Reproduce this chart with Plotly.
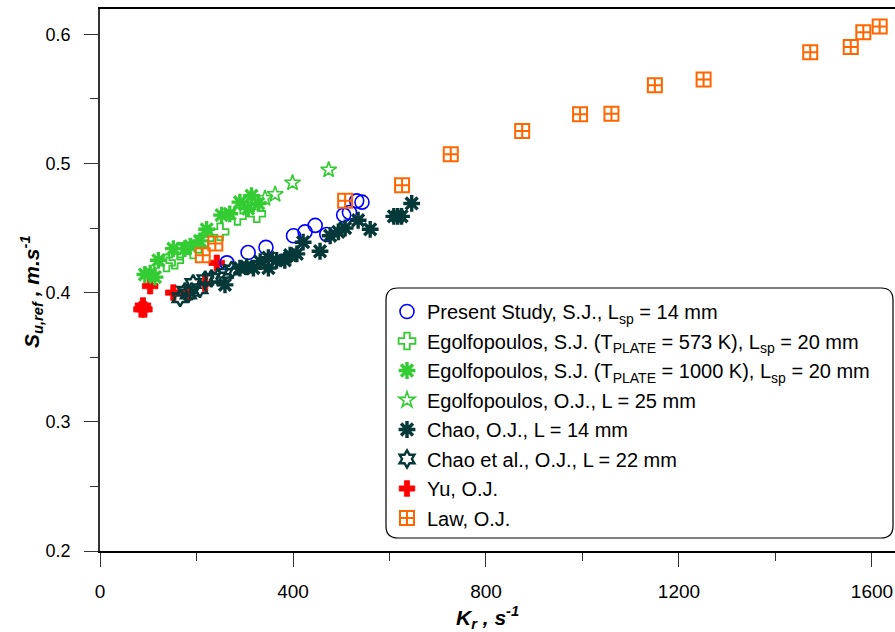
import plotly.graph_objects as go

# ---------------- data ----------------
present_k = [263, 307, 344, 401, 425, 446, 470, 505, 517, 532, 543]
present_s = [0.423, 0.431, 0.435, 0.444, 0.447, 0.452, 0.445, 0.460, 0.462, 0.471, 0.470]

ego573_k = [138, 155, 166, 193, 218, 249, 285, 325]
ego573_s = [0.423, 0.425, 0.432, 0.433, 0.442, 0.447, 0.459, 0.461]

ego1000_k = [93, 104, 114, 121, 152, 176, 187, 207, 221, 252, 269, 290, 307, 314, 328]
ego1000_s = [0.414, 0.415, 0.412, 0.425, 0.434, 0.434, 0.436, 0.440, 0.449, 0.460,
             0.461, 0.470, 0.465, 0.475, 0.469]

egooj_k = [342, 363, 399, 474]
egooj_s = [0.473, 0.476, 0.485, 0.495]

chao14_k = [259, 290, 304, 318, 332, 349, 349, 366, 383, 394, 408, 421, 456, 477,
            494, 508, 535, 560, 609, 617, 625, 646]
chao14_s = [0.406, 0.419, 0.420, 0.419, 0.424, 0.427, 0.419, 0.425, 0.425, 0.429,
            0.430, 0.439, 0.432, 0.444, 0.447, 0.450, 0.456, 0.449, 0.459, 0.459,
            0.459, 0.469]

chao22_k = [166, 176, 183, 190, 193, 207, 218, 231, 245, 259, 273]
chao22_s = [0.396, 0.401, 0.399, 0.401, 0.407, 0.403, 0.410, 0.411, 0.412, 0.415, 0.4175]

yu_k = [86, 92, 89, 104, 152, 180, 218, 242]
yu_s = [0.387, 0.387, 0.390, 0.405, 0.400, 0.400, 0.407, 0.423]

law_k = [213, 239, 508, 626, 727, 875, 995, 1060, 1150, 1251, 1472, 1556, 1582, 1616]
law_s = [0.429, 0.438, 0.471, 0.483, 0.507, 0.525, 0.538, 0.5385, 0.5605, 0.565,
         0.586, 0.590, 0.6015, 0.606]

x_range = [0, 1647.7]
y_range = [0.2, 0.6195]
x_ticks = [0, 400, 800, 1200, 1600]
y_ticks = [0.2, 0.3, 0.4, 0.5, 0.6]

# ---------------- styling ----------------
BLUE = "#0000ff"
GREEN = "#33cc33"
DARK = "#053838"
RED = "#ff0000"
ORANGE = "#ff6600"
FONT = "Liberation Sans, Arial, sans-serif"

fig = go.Figure()

def add(k, s, name, symbol, color, size, lw, rank):
    fig.add_trace(go.Scatter(
        x=k, y=s, mode="markers", name=name, legendrank=rank,
        legendgroup=name,
        marker=dict(symbol=symbol, size=size,
                    color=color,
                    line=dict(color=color, width=lw)),
    ))

# draw order: Yu underneath the Chao cluster, Law on top
add(yu_k, yu_s, "Yu, O.J.", "cross", RED, 13, 0.8, 7)
add(present_k, present_s, "Present Study, S.J., L<sub>sp</sub> = 14 mm",
    "circle-open", BLUE, 14, 1.6, 1)
add(ego573_k, ego573_s,
    "Egolfopoulos, S.J. (T<sub>PLATE</sub> = 573 K), L<sub>sp</sub> = 20 mm",
    "cross-open", GREEN, 14, 1.8, 2)
add(ego1000_k, ego1000_s,
    "Egolfopoulos, S.J. (T<sub>PLATE</sub> = 1000 K), L<sub>sp</sub> = 20 mm",
    "asterisk-open", GREEN, 14, 3.4, 3)
add(egooj_k, egooj_s, "Egolfopoulos, O.J., L = 25 mm", "star-open", GREEN, 12, 1.6, 4)
add(chao14_k, chao14_s, "Chao, O.J., L = 14 mm", "asterisk-open", DARK, 14, 3.4, 5)
add(chao22_k, chao22_s, "Chao et al., O.J., L = 22 mm", "hexagram-open", DARK, 13, 2.4, 6)
add(law_k, law_s, "Law, O.J.", "square-cross-open", ORANGE, 14, 2.0, 8)

# plot area geometry in pixels (for the legend frame)
W, H = 895, 632
ml, mr, mt, mb = 100, 0, 9, 81
pw, ph = W - ml - mr, H - mt - mb

def px2paper(px, py):
    return (px - ml) / pw, (H - mb - py) / ph

x0, y0 = px2paper(386, 288)
x1, y1 = px2paper(893, 538)
rx, ry = 12 / pw, 12 / ph
path = (f"M {x0+rx},{y0} L {x1-rx},{y0} Q {x1},{y0} {x1},{y0-ry} "
        f"L {x1},{y1+ry} Q {x1},{y1} {x1-rx},{y1} "
        f"L {x0+rx},{y1} Q {x0},{y1} {x0},{y1+ry} "
        f"L {x0},{y0-ry} Q {x0},{y0} {x0+rx},{y0} Z")

lx, ly = px2paper(387, 292)

fig.update_layout(
    width=W, height=H,
    margin=dict(l=ml, r=mr, t=mt, b=mb),
    paper_bgcolor="white", plot_bgcolor="white",
    font=dict(family=FONT, size=17, color="black"),
    showlegend=True,
    legend=dict(
        x=lx, y=ly, xanchor="left", yanchor="top",
        bgcolor="rgba(0,0,0,0)", borderwidth=0,
        font=dict(family=FONT, size=20, color="black"),
        tracegroupgap=0.5, traceorder="grouped",
        itemsizing="trace",
    ),
    shapes=[dict(type="path", path=path, xref="paper", yref="paper",
                 line=dict(color="black", width=1.2), fillcolor="white",
                 layer="above")],
    xaxis=dict(
        range=x_range, tickvals=x_ticks, ticktext=[str(v) for v in x_ticks],
        showgrid=False, zeroline=False, showline=True, linecolor="black",
        linewidth=1.5, mirror=True, ticks="outside", ticklen=14, tickwidth=1,
        tickcolor="#333", ticklabelstandoff=8,
        tickfont=dict(family="Liberation Sans Narrow, Arial Narrow, " + FONT, size=19),
        minor=dict(dtick=200, tick0=0, ticks="outside", ticklen=8,
                   tickcolor="#333", tickwidth=1),
    ),
    yaxis=dict(
        range=y_range, tickvals=y_ticks, ticktext=[f"{v:.1f}" for v in y_ticks],
        showgrid=False, zeroline=False, showline=True, linecolor="#333",
        linewidth=1.5, mirror=False, ticks="outside", ticklen=14, tickwidth=1,
        tickcolor="#333", ticklabelstandoff=10,
        tickfont=dict(family=FONT, size=18),
        minor=dict(dtick=0.05, tick0=0.2, ticks="outside", ticklen=8,
                   tickcolor="#333", tickwidth=1),
    ),
    annotations=[
        dict(text="<b><i>K<sub>r</sub> , s<sup>-1</sup></i></b>",
             xref="paper", yref="paper", x=px2paper(487, 0)[0], y=px2paper(0, 617)[1],
             xanchor="center", yanchor="middle", showarrow=False,
             font=dict(family=FONT, size=21, color="black")),
        dict(text="<b><i>S<sub>u,ref</sub> , m.s<sup>-1</sup></i></b>",
             xref="paper", yref="paper", x=px2paper(32, 0)[0], y=px2paper(0, 292)[1],
             xanchor="center", yanchor="middle", textangle=-90, showarrow=False,
             font=dict(family=FONT, size=21, color="black")),
    ],
)

fig.write_html("out.html",
               config={"displayModeBar": False},
               post_script="document.body.style.margin='0px';"
                           "document.body.style.overflow='hidden';")
